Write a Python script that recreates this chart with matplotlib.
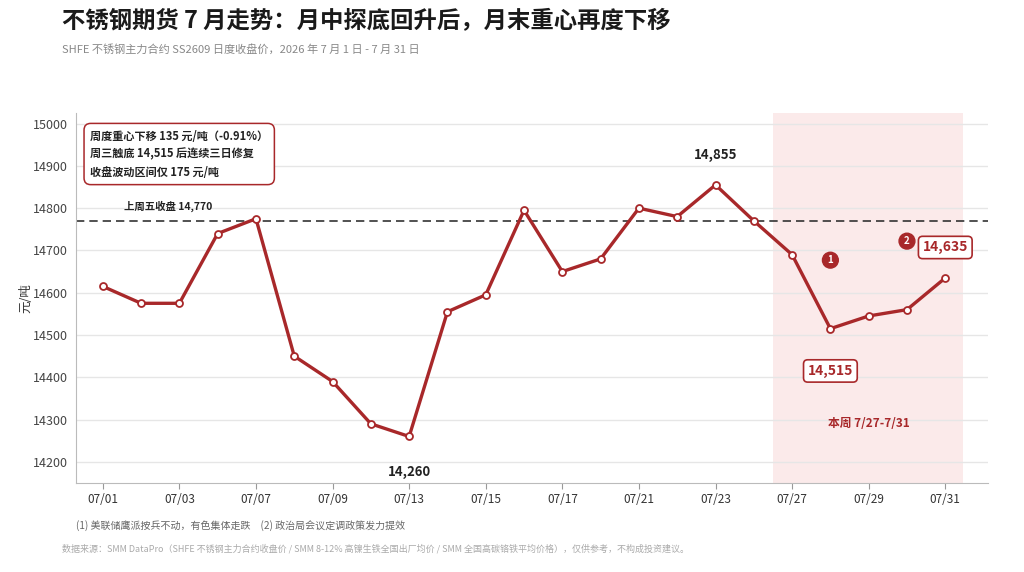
import matplotlib
matplotlib.use("Agg")
import matplotlib.pyplot as plt
import numpy as np

plt.rcParams['font.family'] = ['Noto Sans CJK SC', 'DejaVu Sans']

dates = ["07/01", "07/02", "07/03", "07/06", "07/07", "07/08", "07/09", "07/10",
         "07/13", "07/14", "07/15", "07/16", "07/17", "07/20", "07/21", "07/22",
         "07/23", "07/24", "07/27", "07/28", "07/29", "07/30", "07/31"]
closes = [14615, 14575, 14575, 14740, 14775, 14450, 14390, 14290,
          14260, 14555, 14595, 14795, 14650, 14680, 14800, 14780,
          14855, 14770, 14690, 14515, 14545, 14560, 14635]
prev_friday_close = 14770
yticks = [14200, 14300, 14400, 14500, 14600, 14700, 14800, 14900, 15000]

RED = "#a8282a"
DARK = "#222222"
GRAY = "#666666"

fig = plt.figure(figsize=(10.24, 5.72), dpi=100)
ax = fig.add_axes([0.0742, 0.1556, 0.8908, 0.6468])

x = np.arange(len(dates))
# current-week shading
wk_start = dates.index("07/27")
ax.axvspan(wk_start - 0.5, len(dates) - 1 + 0.45, color="#fbeaea", zorder=0, lw=0)

ax.axhline(prev_friday_close, color="#333333", ls=(0, (5, 3)), lw=1.2, zorder=2)
ax.plot(x, closes, color=RED, lw=2.4, zorder=3,
        marker="o", markersize=5, markerfacecolor="white",
        markeredgecolor=RED, markeredgewidth=1.3)

ax.set_xlim(-0.7, len(dates) - 1 + 1.12)
ax.set_ylim(14150, 15025)
ax.set_yticks(yticks)
ax.set_yticklabels([str(v) for v in yticks], fontsize=9, color="#444444")
ax.set_xticks(x[::2])
ax.set_xticklabels(dates[::2], fontsize=8.5, color="#333333")
ax.tick_params(axis="y", length=0, pad=6)
ax.tick_params(axis="x", length=4, color="#999999")
ax.grid(axis="y", color="#e6e6e6", lw=1, zorder=1)
for s in ["top", "right"]:
    ax.spines[s].set_visible(False)
for s in ["left", "bottom"]:
    ax.spines[s].set_color("#bbbbbb")
ax.set_ylabel("元/吨", fontsize=9, color="#333333", labelpad=0)

# annotations
ax.text(1.72, prev_friday_close + 20, "上周五收盘 14,770", fontsize=7.5,
        fontweight="bold", color=DARK, ha="center", va="bottom")

i_low = closes.index(min(closes[:12]))
ax.text(i_low, min(closes[:12]) - 85, "14,260", fontsize=9.5, fontweight="bold",
        color=DARK, ha="center", va="center")
i_hi = closes.index(max(closes))
ax.text(i_hi, max(closes) + 70, "14,855", fontsize=9.5, fontweight="bold",
        color=DARK, ha="center", va="center")

box = dict(boxstyle="round,pad=0.3,rounding_size=0.3", fc="white", ec=RED, lw=1.2)
i_wl = dates.index("07/28")
ax.text(i_wl, closes[i_wl] - 100, "14,515", fontsize=10, fontweight="bold",
        color=RED, ha="center", va="center", bbox=box)
i_last = len(dates) - 1
ax.text(i_last, closes[i_last] + 72, "14,635", fontsize=10, fontweight="bold",
        color=RED, ha="center", va="center", bbox=box)

circ = dict(boxstyle="circle,pad=0.3", fc=RED, ec=RED)
ax.text(i_wl, 14677, "1", fontsize=7, fontweight="bold", color="white",
        ha="center", va="center", bbox=circ)
ax.text(dates.index("07/30"), 14722, "2", fontsize=7, fontweight="bold", color="white",
        ha="center", va="center", bbox=circ)

ax.text(dates.index("07/29"), 14290, "本周 7/27-7/31", fontsize=8.5, fontweight="bold",
        color=RED, ha="center", va="center")

sbox = dict(boxstyle="round,pad=0.55,rounding_size=0.6", fc="white", ec=RED, lw=1.1)
ax.text(-0.33, 14986, "周度重心下移 135 元/吨（-0.91%）\n周三触底 14,515 后连续三日修复\n收盘波动区间仅 175 元/吨",
        fontsize=8, fontweight="bold", color=DARK, ha="left", va="top",
        linespacing=1.5, bbox=sbox, zorder=5)

fig.text(0.0605, 0.963, "不锈钢期货 7 月走势：月中探底回升后，月末重心再度下移",
         fontsize=16.8, fontweight="heavy", color="#1a1a1a", ha="left", va="center")
fig.text(0.0605, 0.914, "SHFE 不锈钢主力合约 SS2609 日度收盘价，2026 年 7 月 1 日 - 7 月 31 日",
         fontsize=8, color="#888888", ha="left", va="center")
fig.text(0.0742, 0.082, "(1) 美联储鹰派按兵不动，有色集体走跌　(2) 政治局会议定调政策发力提效",
         fontsize=7.2, color="#666666", ha="left", va="center")
fig.text(0.0605, 0.040, "数据来源：SMM DataPro（SHFE 不锈钢主力合约收盘价 / SMM 8-12% 高镍生铁全国出厂均价 / SMM 全国高碳铬铁平均价格），仅供参考，不构成投资建议。",
         fontsize=6.5, color="#aaaaaa", ha="left", va="center")

fig.savefig("out.png", dpi=100)
